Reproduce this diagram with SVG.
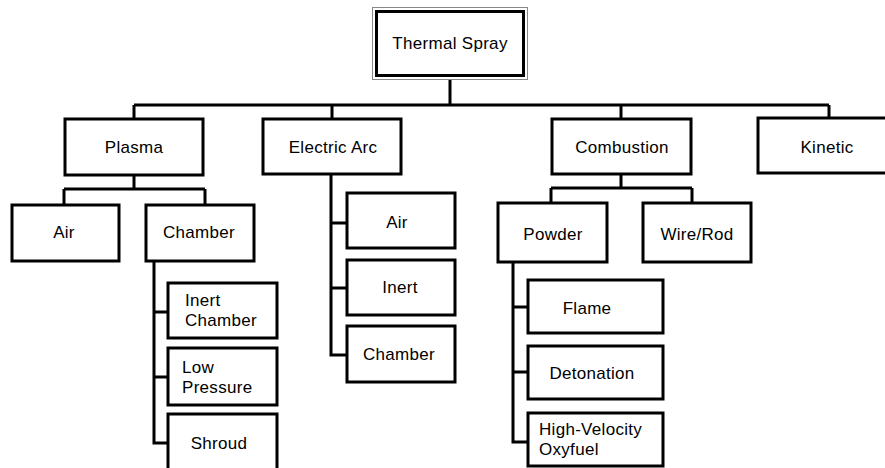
<svg xmlns="http://www.w3.org/2000/svg" width="885" height="468" viewBox="0 0 885 468">
<style>
.box{fill:#fff;stroke:#000;stroke-width:3}
.ln{fill:none;stroke:#000;stroke-width:3}
text{font-family:"Liberation Sans",Arial,sans-serif;font-size:17px;fill:#000;letter-spacing:0.3px}
.c{text-anchor:middle}
</style>
<rect width="885" height="468" fill="#fff"/>
<g id="connectors">
<path class="ln" d="M450,80V105M134,105H829M134,105V119M332,105V119M621,105V119M829,105V118"/>
<path class="ln" d="M134,175V189M64,189H205M64,189V205M205,189V205"/>
<path class="ln" d="M154,261V443H168M154,312H168M154,377H168"/>
<path class="ln" d="M331,174V355H347M331,223H347M331,288H347"/>
<path class="ln" d="M621,174V188M551,188H692M551,188V203M692,188V203"/>
<path class="ln" d="M513,262V442H528M513,307H528M513,372H528"/>
</g>
<g id="thermal-spray">
<rect x="372.5" y="7.5" width="155" height="72" fill="#fff" stroke="#888" stroke-width="1"/>
<rect x="376.5" y="11.5" width="147" height="64" fill="#fff" stroke="#000" stroke-width="3"/>
<text class="c" x="450" y="49">Thermal Spray</text>
</g>
<g id="plasma"><rect class="box" x="65" y="119" width="138" height="56"/><text class="c" x="134" y="153">Plasma</text></g>
<g id="electric-arc"><rect class="box" x="263" y="119" width="138" height="55"/><text class="c" x="333" y="153">Electric Arc</text></g>
<g id="combustion"><rect class="box" x="552" y="119" width="139" height="55"/><text class="c" x="622" y="153">Combustion</text></g>
<g id="kinetic"><rect class="box" x="758" y="118" width="145" height="55"/><text class="c" x="827" y="153">Kinetic</text></g>
<g id="plasma-air"><rect class="box" x="12" y="205" width="107" height="56"/><text class="c" x="64" y="238">Air</text></g>
<g id="plasma-chamber"><rect class="box" x="146" y="205" width="108" height="56"/><text class="c" x="199" y="238">Chamber</text></g>
<g id="inert-chamber"><rect class="box" x="168" y="283" width="109" height="55"/><text x="185" y="306">Inert</text><text x="185" y="326">Chamber</text></g>
<g id="low-pressure"><rect class="box" x="168" y="348" width="109" height="57"/><text x="182" y="373">Low</text><text x="182" y="393">Pressure</text></g>
<g id="shroud"><rect class="box" x="168" y="414" width="109" height="70"/><text class="c" x="219" y="449">Shroud</text></g>
<g id="arc-air"><rect class="box" x="347" y="193" width="108" height="55"/><text class="c" x="397" y="228">Air</text></g>
<g id="arc-inert"><rect class="box" x="347" y="260" width="108" height="55"/><text class="c" x="400" y="293">Inert</text></g>
<g id="arc-chamber"><rect class="box" x="347" y="326" width="108" height="56"/><text class="c" x="399" y="360">Chamber</text></g>
<g id="powder"><rect class="box" x="498" y="203" width="109" height="59"/><text class="c" x="553" y="240">Powder</text></g>
<g id="wire-rod"><rect class="box" x="643" y="203" width="108" height="59"/><text class="c" x="697" y="240">Wire/Rod</text></g>
<g id="flame"><rect class="box" x="528" y="280" width="135" height="53"/><text class="c" x="587" y="314">Flame</text></g>
<g id="detonation"><rect class="box" x="528" y="346" width="135" height="53"/><text class="c" x="592" y="379">Detonation</text></g>
<g id="hvof"><rect class="box" x="528" y="413" width="135" height="53"/><text x="539" y="435">High-Velocity</text><text x="539" y="455">Oxyfuel</text></g>
</svg>
